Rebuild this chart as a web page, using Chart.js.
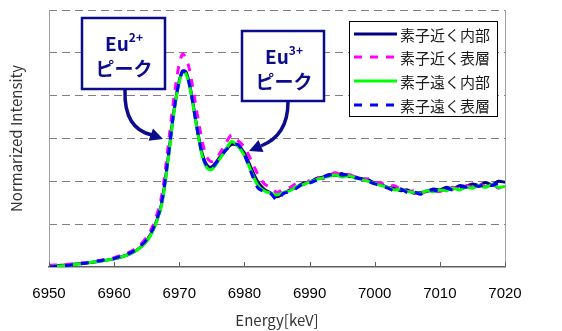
<!DOCTYPE html>
<html>
<head>
<meta charset="UTF-8">
<title>Eu XANES</title>
<script src="https://cdn.jsdelivr.net/npm/chart.js@4"></script>
<style>
  body { margin: 0; background: #fff; }
  #c { display: block; }
</style>
</head>
<body>
<canvas id="c" width="562" height="331"></canvas>
<script>
// energy points [keV]
var energies = [6950, 6952, 6954, 6956, 6958, 6960, 6962, 6963, 6964, 6965, 6966, 6967,
  6967.5, 6968, 6968.5, 6969, 6969.5, 6970, 6970.5, 6971, 6971.5, 6972, 6972.5, 6973,
  6973.5, 6974, 6974.5, 6975, 6975.5, 6976,
  6977, 6978, 6979, 6980, 6981, 6982, 6983, 6984, 6985, 6986, 6987, 6988, 6989, 6990,
  6991, 6992, 6993, 6994, 6995, 6996, 6997, 6998, 6999, 7000, 7001, 7002, 7003, 7004,
  7005, 7006, 7007, 7008, 7009, 7010, 7011, 7012, 7013, 7014, 7015, 7016, 7017, 7018,
  7019, 7020];

// 素子近く内部
var nearInner = [0.02, 0.04, 0.07, 0.10, 0.14, 0.19, 0.28, 0.35, 0.46, 0.62, 0.88, 1.30,
  1.65, 2.20, 2.80, 3.45, 3.95, 4.35, 4.58, 4.56, 4.32, 3.92, 3.45, 3.02,
  2.66, 2.44, 2.34, 2.34, 2.41, 2.52,
  2.72, 2.86, 2.84, 2.66, 2.32, 2.00, 1.82, 1.73, 1.64, 1.72, 1.80, 1.86, 1.96, 1.98,
  2.06, 2.10, 2.16, 2.14, 2.18, 2.12, 2.10, 2.06, 2.04, 1.96, 1.92, 1.86, 1.84, 1.78,
  1.80, 1.72, 1.74, 1.76, 1.82, 1.80, 1.86, 1.82, 1.90, 1.88, 1.94, 1.90, 1.97, 1.92,
  2.00, 1.98];

// 素子近く表層
var nearSurface = [0.04, 0.05, 0.08, 0.11, 0.16, 0.22, 0.32, 0.40, 0.52, 0.70, 0.98, 1.45,
  1.85, 2.45, 3.10, 3.75, 4.30, 4.75, 4.97, 4.90, 4.65, 4.25, 3.80, 3.35,
  2.95, 2.65, 2.50, 2.46, 2.50, 2.60,
  2.85, 3.08, 2.95, 2.80, 2.50, 2.18, 1.95, 1.85, 1.74, 1.82, 1.86, 1.95, 1.92, 2.02,
  2.10, 2.06, 2.14, 2.20, 2.12, 2.16, 2.10, 2.02, 2.06, 1.98, 1.96, 1.88, 1.90, 1.82,
  1.76, 1.78, 1.70, 1.78, 1.80, 1.76, 1.84, 1.86, 1.82, 1.90, 1.86, 1.94, 1.88, 1.96,
  1.84, 1.94];

// 素子遠く内部
var farInner = [0.01, 0.03, 0.06, 0.10, 0.14, 0.19, 0.28, 0.35, 0.45, 0.60, 0.86, 1.28,
  1.62, 2.15, 2.75, 3.40, 3.92, 4.32, 4.55, 4.52, 4.28, 3.88, 3.42, 2.98,
  2.60, 2.38, 2.28, 2.28, 2.36, 2.48,
  2.70, 2.93, 2.82, 2.60, 2.25, 1.92, 1.78, 1.72, 1.68, 1.74, 1.78, 1.88, 1.92, 1.98,
  2.04, 2.08, 2.12, 2.15, 2.10, 2.13, 2.08, 2.04, 2.00, 1.95, 1.90, 1.86, 1.80, 1.82,
  1.76, 1.74, 1.72, 1.78, 1.76, 1.80, 1.78, 1.84, 1.80, 1.86, 1.84, 1.90, 1.86, 1.92,
  1.86, 1.88];

// 素子遠く表層
var farSurface = [0.00, 0.02, 0.06, 0.10, 0.15, 0.20, 0.30, 0.37, 0.48, 0.64, 0.90, 1.32,
  1.68, 2.22, 2.82, 3.45, 3.96, 4.34, 4.56, 4.54, 4.30, 3.90, 3.44, 3.00,
  2.64, 2.42, 2.32, 2.32, 2.40, 2.50,
  2.70, 2.84, 2.86, 2.62, 2.22, 1.86, 1.76, 1.72, 1.56, 1.72, 1.76, 1.84, 1.94, 1.96,
  2.02, 2.10, 2.14, 2.18, 2.14, 2.16, 2.08, 2.06, 2.00, 1.94, 1.90, 1.84, 1.78, 1.82,
  1.74, 1.76, 1.70, 1.78, 1.80, 1.76, 1.84, 1.80, 1.88, 1.86, 1.92, 1.88, 1.94, 1.90,
  1.96, 1.94];

var seriesNames = ['素子近く内部', '素子近く表層', '素子遠く内部', '素子遠く表層'];
var seriesColors = ['#000080', '#ff00ff', '#00ff00', '#0000ff'];
var seriesDash = [[], [8, 8], [], [8, 8]];
var xTicks = [6950, 6960, 6970, 6980, 6990, 7000, 7010, 7020];

var fontJP = '"Noto Sans CJK JP", "Noto Sans", sans-serif';
Chart.defaults.font.family = fontJP;

function pts(vals) {
  return energies.map(function (e, i) { return { x: e, y: vals[i] }; });
}

var allSeries = [nearInner, nearSurface, farInner, farSurface];
var drawOrder = [4, 3, 2, 1];
var datasets = allSeries.map(function (vals, i) {
  return {
    label: seriesNames[i],
    data: pts(vals),
    borderColor: seriesColors[i],
    borderWidth: 3,
    borderDash: seriesDash[i],
    pointRadius: 0,
    tension: 0.25,
    fill: false,
    order: drawOrder[i]
  };
});

// boxes, arrows, legend and the frame bits Chart.js does not draw
var decor = {
  id: 'decor',
  afterDatasetsDraw: function (chart) {
    var ctx = chart.ctx;
    var a = chart.chartArea;
    var xs = chart.scales.x;
    ctx.save();

    // left and right frame lines
    ctx.strokeStyle = '#a0a0a0';
    ctx.lineWidth = 1;
    ctx.beginPath();
    ctx.moveTo(a.left + 0.5, a.top);
    ctx.lineTo(a.left + 0.5, a.bottom);
    ctx.moveTo(a.right + 0.5, a.top);
    ctx.lineTo(a.right + 0.5, a.bottom);
    ctx.stroke();

    // inner tick marks
    ctx.strokeStyle = '#606060';
    xTicks.forEach(function (t) {
      var px = Math.round(xs.getPixelForValue(t)) + 0.5;
      ctx.beginPath();
      ctx.moveTo(px, a.bottom - 5);
      ctx.lineTo(px, a.bottom);
      ctx.stroke();
    });

    var navy = '#0b0b8c';

    function arrow(x0, y0, c1x, c1y, c2x, c2y, x1, y1, tx, ty) {
      ctx.strokeStyle = navy;
      ctx.fillStyle = navy;
      ctx.lineWidth = 3.5;
      ctx.beginPath();
      ctx.moveTo(x0, y0);
      ctx.bezierCurveTo(c1x, c1y, c2x, c2y, x1, y1);
      ctx.stroke();
      var ang = Math.atan2(ty - y1, tx - x1);
      var len = 13, w = 6.5;
      ctx.beginPath();
      ctx.moveTo(tx, ty);
      ctx.lineTo(tx - len * Math.cos(ang) + w * Math.sin(ang), ty - len * Math.sin(ang) - w * Math.cos(ang));
      ctx.lineTo(tx - len * Math.cos(ang) - w * Math.sin(ang), ty - len * Math.sin(ang) + w * Math.cos(ang));
      ctx.closePath();
      ctx.fill();
    }

    function label(x, y, w, h, sup, cx) {
      ctx.fillStyle = '#ffffff';
      ctx.fillRect(x, y, w, h);
      ctx.strokeStyle = navy;
      ctx.lineWidth = 2.5;
      ctx.strokeRect(x, y, w, h);
      ctx.fillStyle = navy;
      ctx.textBaseline = 'alphabetic';
      ctx.font = 'bold 19px ' + fontJP;
      var ew = ctx.measureText('Eu').width;
      ctx.font = 'bold 12px ' + fontJP;
      var sw = ctx.measureText(sup).width;
      var sx = cx - (ew + sw) / 2;
      ctx.font = 'bold 19px ' + fontJP;
      ctx.textAlign = 'left';
      ctx.fillText('Eu', sx, y + 33);
      ctx.font = 'bold 12px ' + fontJP;
      ctx.fillText(sup, sx + ew, y + 24);
      ctx.font = 'bold 19px ' + fontJP;
      ctx.textAlign = 'center';
      ctx.fillText('ピーク', cx, y + 58);
    }

    arrow(125, 90, 124, 122, 138, 132, 152, 135, 163, 139);
    arrow(288, 102, 288, 128, 276, 140, 261, 146, 249, 151);
    label(82, 18, 83, 71, '2+', 124);
    label(242, 31, 82, 70, '3+', 284);

    // legend
    var lx = 349, ly = 21, lw = 148, lh = 95;
    ctx.fillStyle = '#ffffff';
    ctx.fillRect(lx, ly, lw, lh);
    ctx.strokeStyle = '#000000';
    ctx.lineWidth = 1;
    ctx.strokeRect(lx + 0.5, ly + 0.5, lw, lh);
    var rows = [34, 57, 81, 105];
    ctx.font = '15px ' + fontJP;
    ctx.textAlign = 'left';
    ctx.textBaseline = 'middle';
    for (var i = 0; i < 4; i++) {
      ctx.strokeStyle = seriesColors[i];
      ctx.lineWidth = 3;
      ctx.setLineDash(seriesDash[i]);
      ctx.beginPath();
      ctx.moveTo(354, rows[i]);
      ctx.lineTo(397, rows[i]);
      ctx.stroke();
      ctx.setLineDash([]);
      ctx.fillStyle = '#1a1a1a';
      ctx.fillText(seriesNames[i], 400, rows[i] + 1);
    }
    ctx.restore();
  }
};

new Chart(document.getElementById('c'), {
  type: 'line',
  data: { datasets: datasets },
  options: {
    responsive: false,
    animation: false,
    devicePixelRatio: 1,
    layout: { padding: { top: 10, right: 57, left: 0, bottom: 0 } },
    plugins: { legend: { display: false }, tooltip: { enabled: false } },
    scales: {
      x: {
        type: 'linear',
        min: 6950,
        max: 7020,
        afterBuildTicks: function (s) { s.ticks = xTicks.map(function (v) { return { value: v }; }); },
        afterFit: function (s) { s.height = 64; },
        grid: { display: true, drawOnChartArea: false, drawTicks: false },
        border: { display: true, color: '#606060', width: 1.5 },
        ticks: {
          color: '#000000', font: { size: 15, family: '"Liberation Sans", Arial, sans-serif' },
          padding: 18, maxRotation: 0,
          callback: function (v) { return String(v); }
        },
        title: { display: true, text: 'Energy[keV]', color: '#333333', font: { size: 15 }, padding: { top: 0, bottom: 2 } }
      },
      y: {
        min: 0,
        max: 6,
        afterBuildTicks: function (s) { s.ticks = [0, 1, 2, 3, 4, 5, 6].map(function (v) { return { value: v }; }); },
        afterFit: function (s) { s.width = 49; },
        ticks: { display: false },
        grid: {
          drawTicks: false,
          color: function (c) { return c.tick && c.tick.value === 0 ? 'rgba(0,0,0,0)' : '#808080'; },
          lineWidth: 1
        },
        border: { display: false, dash: [8, 5] },
        title: { display: true, text: 'Normarized Intensity', color: '#333333', font: { size: 15 }, padding: { top: 7, bottom: 0 } }
      }
    }
  },
  plugins: [decor]
});
</script>
</body>
</html>
